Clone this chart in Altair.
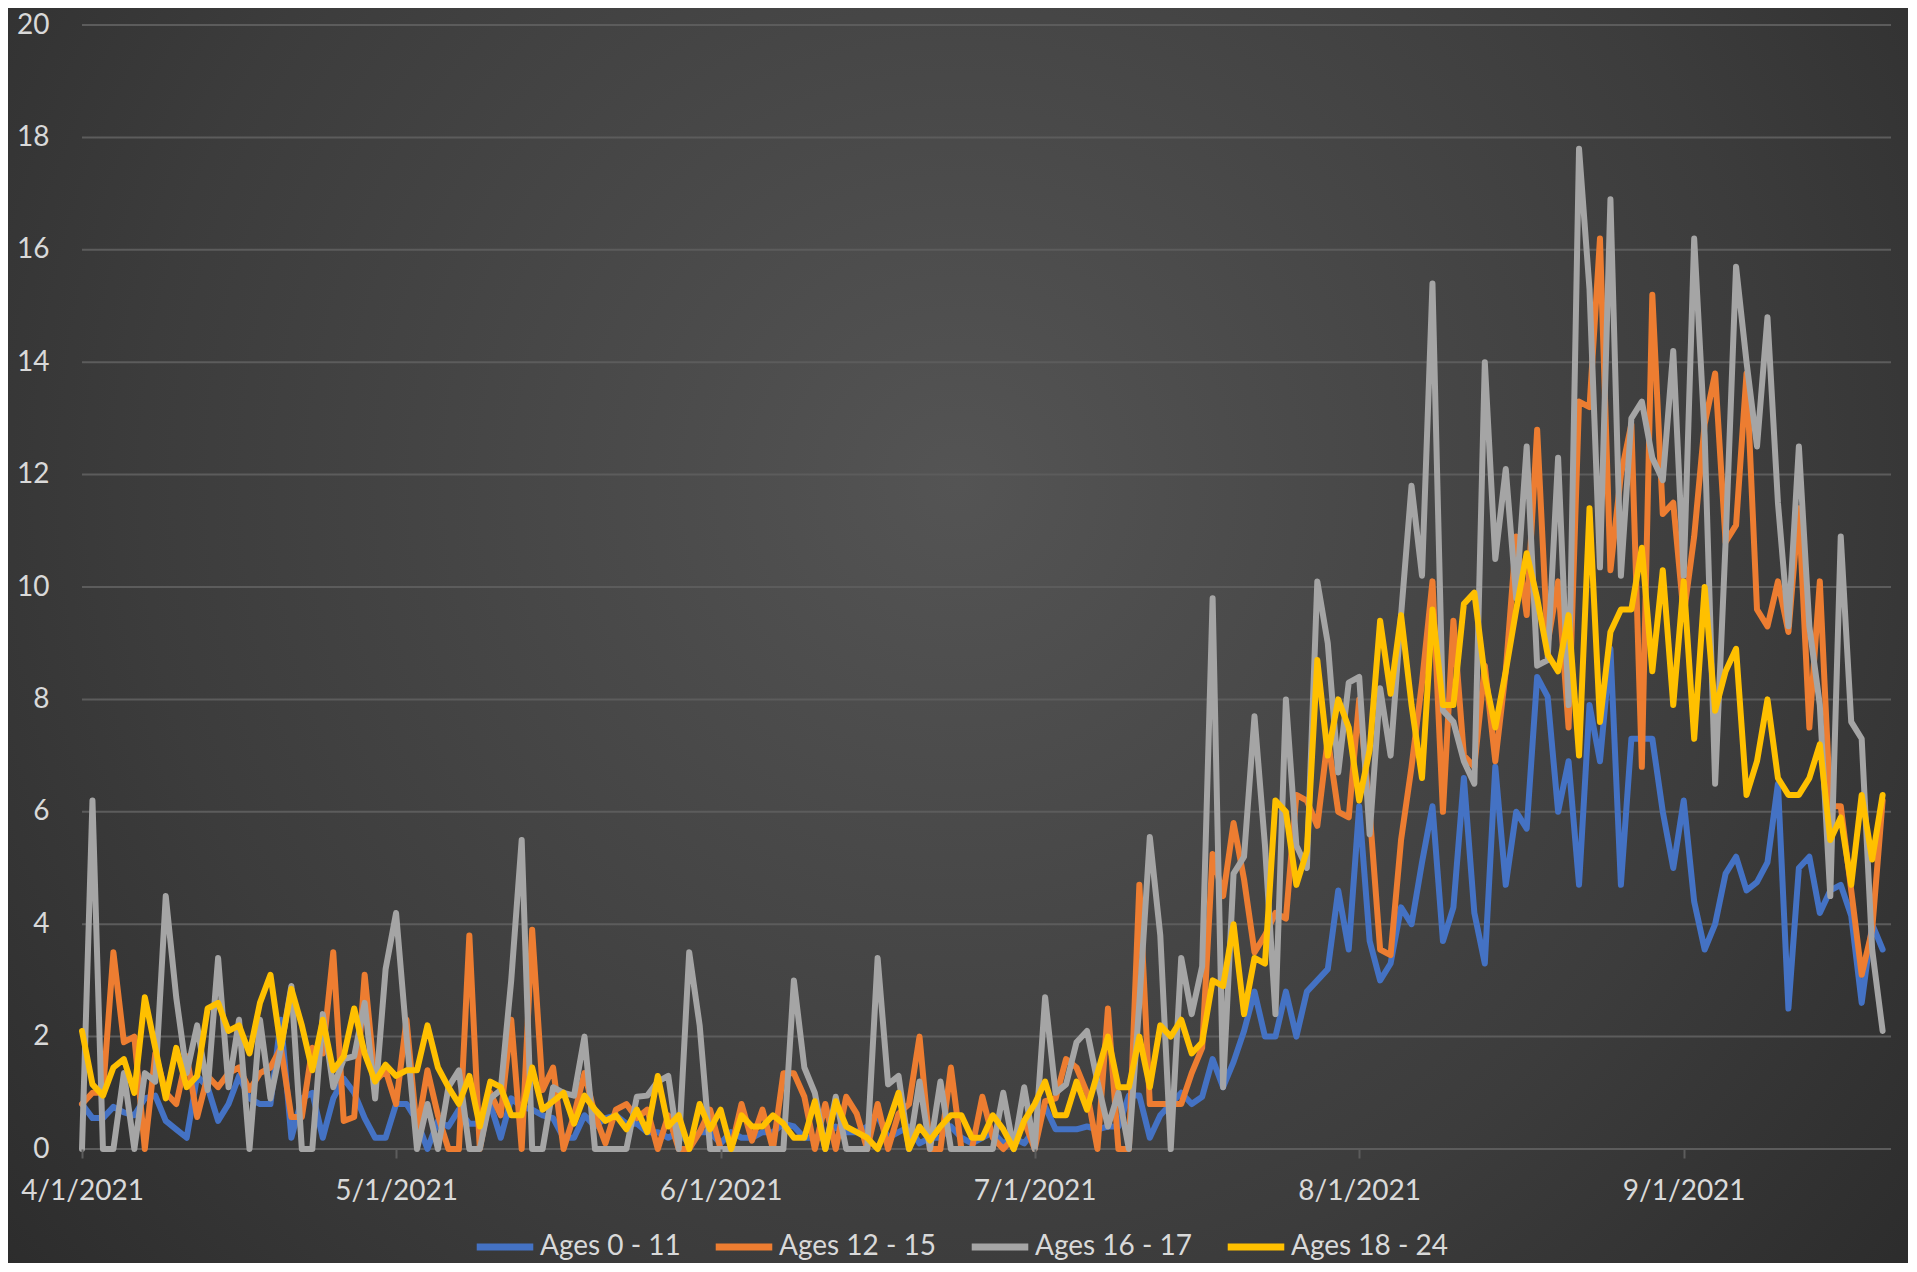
import altair as alt
import pandas as pd

# ---------------- data ----------------
dates = pd.date_range("2021-04-01", "2021-09-20", freq="D")
series_names = ["Ages 0 - 11", "Ages 12 - 15", "Ages 16 - 17", "Ages 18 - 24"]
series_colors = ["#4472C4", "#ED7D31", "#A5A5A5", "#FFC000"]

ages_0_11 = [
    0.8, 0.55, 0.55, 0.75, 0.65, 0.6, 0.9, 0.95, 0.5, 0.35,
    0.2, 1.3, 1.1, 0.5, 0.8, 1.3, 0.9, 0.8, 0.8, 2.3,
    0.2, 0.9, 1.0, 0.2, 0.9, 1.25, 1.0, 0.55, 0.2, 0.2,
    0.8, 0.8, 0.5, 0.0, 0.5, 0.4, 0.7, 0.45, 0.45, 0.8,
    0.2, 0.9, 0.75, 0.7, 0.6, 0.55, 0.2, 0.2, 0.6, 0.4,
    0.55, 0.6, 0.45, 0.45, 0.3, 0.3, 0.2, 0.3, 0.1, 0.3,
    0.3, 0.1, 0.3, 0.2, 0.2, 0.3, 0.3, 0.45, 0.4, 0.2,
    0.2, 0.2, 0.4, 0.3, 0.3, 0.4, 0.6, 0.2, 0.3, 0.4,
    0.1, 0.2, 0.2, 0.4, 0.2, 0.1, 0.2, 0.3, 0.1, 0.2,
    0.1, 0.35, 0.75, 0.35, 0.35, 0.35, 0.4, 0.35, 0.4, 0.4,
    0.95, 0.95, 0.2, 0.6, 0.8, 1.0, 0.8, 0.93, 1.6, 1.1,
    1.55, 2.1, 2.8, 2.0, 2.0, 2.8, 2.0, 2.8, 3.0, 3.2,
    4.6, 3.55, 6.1, 3.7, 3.0, 3.3, 4.3, 4.0, 5.1, 6.1,
    3.7, 4.3, 6.6, 4.2, 3.3, 6.8, 4.7, 6.0, 5.7, 8.4,
    8.05, 6.0, 6.9, 4.7, 7.9, 6.9, 8.9, 4.7, 7.3, 7.3,
    7.3, 6.0, 5.0, 6.2, 4.4, 3.55, 4.0, 4.9, 5.2, 4.6,
    4.75, 5.1, 6.5, 2.5, 5.0, 5.2, 4.2, 4.6, 4.7, 4.15,
    2.6, 4.0, 3.55,
]

ages_12_15 = [
    0.8, 1.0, 1.0, 3.5, 1.9, 2.0, 0.0, 1.7, 1.0, 0.8,
    1.65, 0.57, 1.3, 1.1, 1.35, 1.45, 1.05, 1.35, 1.45, 1.8,
    0.57, 0.57, 1.8, 1.7, 3.5, 0.5, 0.57, 3.1, 1.2, 1.4,
    0.8, 2.3, 0.3, 1.4, 0.6, 0.0, 0.0, 3.8, 0.0, 1.0,
    0.6, 2.3, 0.0, 3.9, 1.05, 1.45, 0.0, 0.6, 1.35, 0.6,
    0.1, 0.7, 0.8, 0.55, 0.7, 0.0, 0.6, 0.0, 0.0, 0.3,
    0.7, 0.0, 0.0, 0.8, 0.15, 0.7, 0.0, 1.35, 1.35, 0.93,
    0.0, 0.8, 0.0, 0.93, 0.63, 0.0, 0.8, 0.0, 0.63, 0.8,
    2.0, 0.0, 0.0, 1.45, 0.0, 0.0, 0.93, 0.2, 0.0, 0.2,
    0.5, 0.0, 0.85, 0.9, 1.6, 1.45, 1.0, 0.0, 2.5, 0.0,
    0.0, 4.7, 0.8, 0.8, 0.8, 0.8, 1.35, 1.8, 5.25, 4.5,
    5.8, 4.8, 3.5, 3.8, 4.2, 4.1, 6.3, 6.2, 5.75, 7.3,
    6.0, 5.9, 8.0, 6.0, 3.55, 3.45, 5.5, 6.8, 8.3, 10.1,
    6.0, 9.4, 7.0, 6.8, 8.6, 6.9, 8.5, 10.9, 9.5, 12.8,
    9.0, 10.1, 7.5, 13.3, 13.2, 16.2, 10.3, 12.0, 12.9, 6.8,
    15.2, 11.3, 11.5, 9.5, 10.9, 12.9, 13.8, 10.8, 11.1, 13.8,
    9.6, 9.3, 10.1, 9.2, 11.4, 7.5, 10.1, 6.1, 6.1, 4.6,
    3.1, 3.9, 6.2,
]

ages_16_17 = [
    0.0, 6.2, 0.0, 0.0, 1.35, 0.0, 1.35, 1.2, 4.5, 2.7,
    1.35, 2.2, 1.05, 3.4, 1.1, 2.3, 0.0, 2.3, 0.9, 1.8,
    2.9, 0.0, 0.0, 2.4, 1.1, 1.6, 1.65, 2.6, 0.9, 3.2,
    4.2, 2.0, 0.0, 0.8, 0.0, 1.1, 1.4, 0.0, 0.0, 0.9,
    1.05, 3.0, 5.5, 0.0, 0.0, 1.1, 1.0, 0.95, 2.0, 0.0,
    0.0, 0.0, 0.0, 0.93, 0.95, 1.2, 1.3, 0.0, 3.5, 2.2,
    0.0, 0.0, 0.0, 0.0, 0.0, 0.0, 0.0, 0.0, 3.0, 1.45,
    1.0, 0.0, 0.93, 0.0, 0.0, 0.0, 3.4, 1.15, 1.3, 0.0,
    1.2, 0.0, 1.2, 0.0, 0.0, 0.0, 0.0, 0.0, 1.0, 0.0,
    1.1, 0.0, 2.7, 1.0, 1.15, 1.9, 2.1, 1.2, 0.4, 1.0,
    0.0, 2.6, 5.55, 3.8, 0.0, 3.4, 2.4, 3.25, 9.8, 1.1,
    4.9, 5.2, 7.7, 5.4, 2.4, 8.0, 5.4, 5.0, 10.1, 9.0,
    6.7, 8.3, 8.4, 5.6, 8.2, 7.0, 9.5, 11.8, 10.2, 15.4,
    7.8, 7.6, 6.9, 6.5, 14.0, 10.5, 12.1, 9.8, 12.5, 8.6,
    8.7, 12.3, 7.9, 17.8, 15.3, 10.35, 16.9, 10.2, 13.0, 13.3,
    12.3, 11.9, 14.2, 10.2, 16.2, 12.7, 6.5, 10.8, 15.7, 14.0,
    12.5, 14.8, 11.5, 9.3, 12.5, 9.3, 7.9, 4.5, 10.9, 7.6,
    7.3, 3.55, 2.1,
]

ages_18_24 = [
    2.1, 1.15, 0.95, 1.45, 1.6, 1.0, 2.7, 1.8, 0.9, 1.8,
    1.1, 1.3, 2.5, 2.6, 2.1, 2.2, 1.7, 2.6, 3.1, 1.8,
    2.85, 2.2, 1.4, 2.3, 1.4, 1.65, 2.5, 1.7, 1.2, 1.5,
    1.3, 1.4, 1.4, 2.2, 1.45, 1.1, 0.8, 1.3, 0.4, 1.2,
    1.1, 0.6, 0.6, 1.45, 0.7, 0.85, 1.0, 0.45, 0.95, 0.7,
    0.5, 0.6, 0.35, 0.7, 0.3, 1.3, 0.4, 0.6, 0.0, 0.8,
    0.35, 0.7, 0.0, 0.6, 0.4, 0.4, 0.6, 0.45, 0.2, 0.2,
    0.85, 0.0, 0.85, 0.4, 0.3, 0.2, 0.0, 0.45, 1.0, 0.0,
    0.4, 0.15, 0.4, 0.6, 0.6, 0.2, 0.2, 0.6, 0.35, 0.0,
    0.5, 0.8, 1.2, 0.6, 0.6, 1.2, 0.7, 1.35, 2.0, 1.1,
    1.1, 2.0, 1.1, 2.2, 2.0, 2.3, 1.7, 1.9, 3.0, 2.9,
    4.0, 2.4, 3.4, 3.3, 6.2, 6.0, 4.7, 5.3, 8.7, 7.0,
    8.0, 7.5, 6.2, 7.1, 9.4, 8.1, 9.5, 7.9, 6.6, 9.6,
    7.9, 7.9, 9.7, 9.9, 8.4, 7.5, 8.5, 9.6, 10.6, 9.8,
    8.8, 8.5, 9.5, 7.0, 11.4, 7.6, 9.2, 9.6, 9.6, 10.7,
    8.5, 10.3, 7.9, 10.1, 7.3, 10.0, 7.8, 8.5, 8.9, 6.3,
    6.9, 8.0, 6.6, 6.3, 6.3, 6.6, 7.2, 5.5, 5.9, 4.7,
    6.3, 5.15, 6.3,
]

tick_days = [0, 30, 61, 91, 122, 153]
tick_labels = ["4/1/2021", "5/1/2021", "6/1/2021", "7/1/2021", "8/1/2021", "9/1/2021"]
y_ticks = [0, 2, 4, 6, 8, 10, 12, 14, 16, 18, 20]

# ---------------- table ----------------
all_series = [ages_0_11, ages_12_15, ages_16_17, ages_18_24]
rows = []
for name, vals in zip(series_names, all_series):
    n = min(len(vals), len(dates))
    for i in range(n):
        rows.append({"day": i, "date": dates[i].strftime("%Y-%m-%d"),
                     "series": name, "value": vals[i]})
df = pd.DataFrame(rows)
grid_df = pd.DataFrame({"value": y_ticks})

label_expr = "''"
for d, lab in reversed(list(zip(tick_days, tick_labels))):
    label_expr = f"datum.value == {d} ? '{lab}' : ({label_expr})"

# ---------------- layout ----------------
W, H = 1809, 1124
PAD_L, PAD_T, PAD_R, PAD_B = 74, 17, 17, 114
FONT = "Lato"
TEXT = "#d9d9d9"
GRID = "#5c5c5c"

x_scale = alt.Scale(domain=[0, 172.8], nice=False, zero=False)
y_scale = alt.Scale(domain=[0, 20], nice=False, zero=True)
y_axis = alt.Axis(values=y_ticks, grid=False, domain=False, ticks=False,
                  labelPadding=33, labelFontSize=28, labelColor=TEXT,
                  labelFont=FONT, zindex=1, title=None)

bg = alt.Chart(alt.Data(values=[{"k": 1}])).mark_rect(
    fill={
        "gradient": "radial",
        "x1": 0.5, "y1": 0.42, "r1": 0,
        "x2": 0.5, "y2": 0.42, "r2": 0.78,
        "stops": [
            {"offset": 0, "color": "#545454"},
            {"offset": 0.55, "color": "#3c3c3c"},
            {"offset": 1, "color": "#232323"},
        ],
    }
).encode(
    x=alt.value(-PAD_L), x2=alt.value(W + PAD_R),
    y=alt.value(-PAD_T), y2=alt.value(H + PAD_B),
)

grid = alt.Chart(grid_df).mark_rule(color=GRID, strokeWidth=2).encode(
    y=alt.Y("value:Q", scale=y_scale, axis=y_axis, title=None)
)

lines = alt.Chart(df).mark_line(
    strokeWidth=6, strokeJoin="round", strokeCap="round"
).encode(
    x=alt.X("day:Q", scale=x_scale, title=None,
            axis=alt.Axis(values=tick_days, labelExpr=label_expr, grid=False,
                          domain=False, ticks=True, tickSize=9, tickWidth=2,
                          tickColor=GRID, labelPadding=19, labelFontSize=28,
                          labelColor=TEXT, labelFont=FONT, zindex=1,
                          labelOverlap=False, labelFlush=False)),
    y=alt.Y("value:Q", scale=y_scale, axis=y_axis, title=None),
    color=alt.Color("series:N",
                    scale=alt.Scale(domain=series_names, range=series_colors),
                    legend=alt.Legend(title=None, orient="none", direction="horizontal",
                                      legendX=391, legendY=1190,
                                      symbolType="stroke", symbolSize=3200,
                                      symbolStrokeWidth=7, labelFontSize=28,
                                      labelColor=TEXT, labelFont=FONT,
                                      labelOffset=3, columnPadding=20,
                                      gridAlign="none", padding=0)),
    detail="series:N",
)

chart = alt.layer(bg, grid, lines).properties(
    width=W, height=H,
    autosize=alt.AutoSizeParams(type="none"),
    padding={"left": PAD_L, "top": PAD_T, "right": PAD_R, "bottom": PAD_B},
).configure(
    background="#2a2a2a", font=FONT
).configure_view(stroke=None)

chart.save("out.html", embed_options={"renderer": "svg", "actions": False})
